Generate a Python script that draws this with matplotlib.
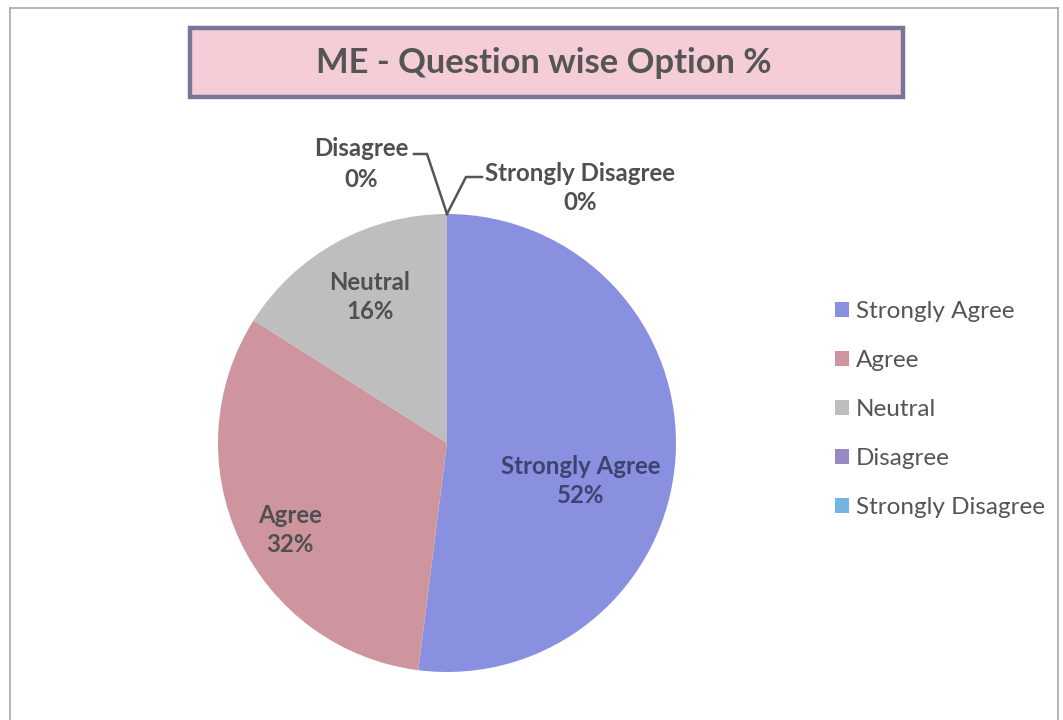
import matplotlib
matplotlib.use("Agg")
import matplotlib.pyplot as plt
from matplotlib.patches import Rectangle
from matplotlib.lines import Line2D

categories = ["Strongly Agree", "Agree", "Neutral", "Disagree", "Strongly Disagree"]
percent = [52, 32, 16, 0, 0]
colors = ["#8990E0", "#CF959F", "#BEBEBE", "#9A88C4", "#72B4E2"]
title = "ME - Question wise Option %"

plt.rcParams['font.family'] = ['Lato', 'DejaVu Sans']

W, H = 1063, 720
fig = plt.figure(figsize=(W / 100, H / 100), dpi=100)
fig.patch.set_facecolor("white")

def fx(px):
    return px / W

def fy(py):
    return 1 - py / H

# outer border
for (x0, y0, x1, y1) in [(10, 8, 1058, 8), (10, 8, 10, 720), (1058, 8, 1058, 720)]:
    fig.add_artist(Line2D([fx(x0), fx(x1)], [fy(y0), fy(y1)], color="#A8A8A8", lw=1.2))

# title box
fig.add_artist(Rectangle((fx(190), fy(97)), fx(903) - fx(190), fy(28) - fy(97),
                         facecolor="#F4CDD6", edgecolor="#7A7598", lw=3.2,
                         transform=fig.transFigure))
fig.text(fx(544), fy(63), title, ha="center", va="center", fontsize=24.8,
         fontweight="bold", color="#555555")

# pie
cx, cy, r = 447, 443, 229
ax = fig.add_axes([fx(cx - r), fy(cy + r), fx(2 * r), fy(cy - r) - fy(cy + r)])
wedges, _ = ax.pie(percent, colors=colors, startangle=90, counterclock=False,
                   radius=1, wedgeprops=dict(linewidth=0))
ax.set_xlim(-1, 1)
ax.set_ylim(-1, 1)
ax.set_aspect("auto")
ax.axis("off")

def dc(px, py):
    return ((px - cx) / r, (cy - py) / r)

lab_fs = 17.3
txtc = "#505050"
# inside labels
inside = {0: (581, 481, "#3D4370"), 1: (290, 530, txtc), 2: (370, 297, txtc)}
for i, (px, py, c) in inside.items():
    x, y = dc(px, py)
    ax.text(x, y, f"{categories[i]}\n{percent[i]}%", ha="center", va="center",
            fontsize=lab_fs, fontweight="bold", color=c, linespacing=1.27)

# outside labels for zero slices
x, y = dc(361, 164)
ax.text(x, y, f"{categories[3]}\n{percent[3]}%", ha="center", va="center",
        fontsize=lab_fs, fontweight="bold", color=txtc, clip_on=False,
        linespacing=1.38)
x, y = dc(580, 188)
ax.text(x, y, f"{categories[4]}\n{percent[4]}%", ha="center", va="center",
        fontsize=lab_fs, fontweight="bold", color=txtc, clip_on=False,
        linespacing=1.35)

# leader lines
for pts in [[(414, 154), (427, 154), (447, 214)], [(447, 214), (466, 177), (482, 177)]]:
    xs, ys = zip(*[dc(p, q) for p, q in pts])
    ax.plot(xs, ys, color="#555555", lw=1.8, clip_on=False, solid_joinstyle="miter")

# legend
leg = fig.legend(wedges, categories, loc="upper left",
                 bbox_to_anchor=(fx(823), fy(289)), frameon=False,
                 fontsize=17.5, handlelength=0.56, handleheight=0.56,
                 handletextpad=0.3, labelspacing=1.15, borderpad=0)
for t in leg.get_texts():
    t.set_color("#555555")

fig.savefig("out.png", dpi=100, facecolor="white")
